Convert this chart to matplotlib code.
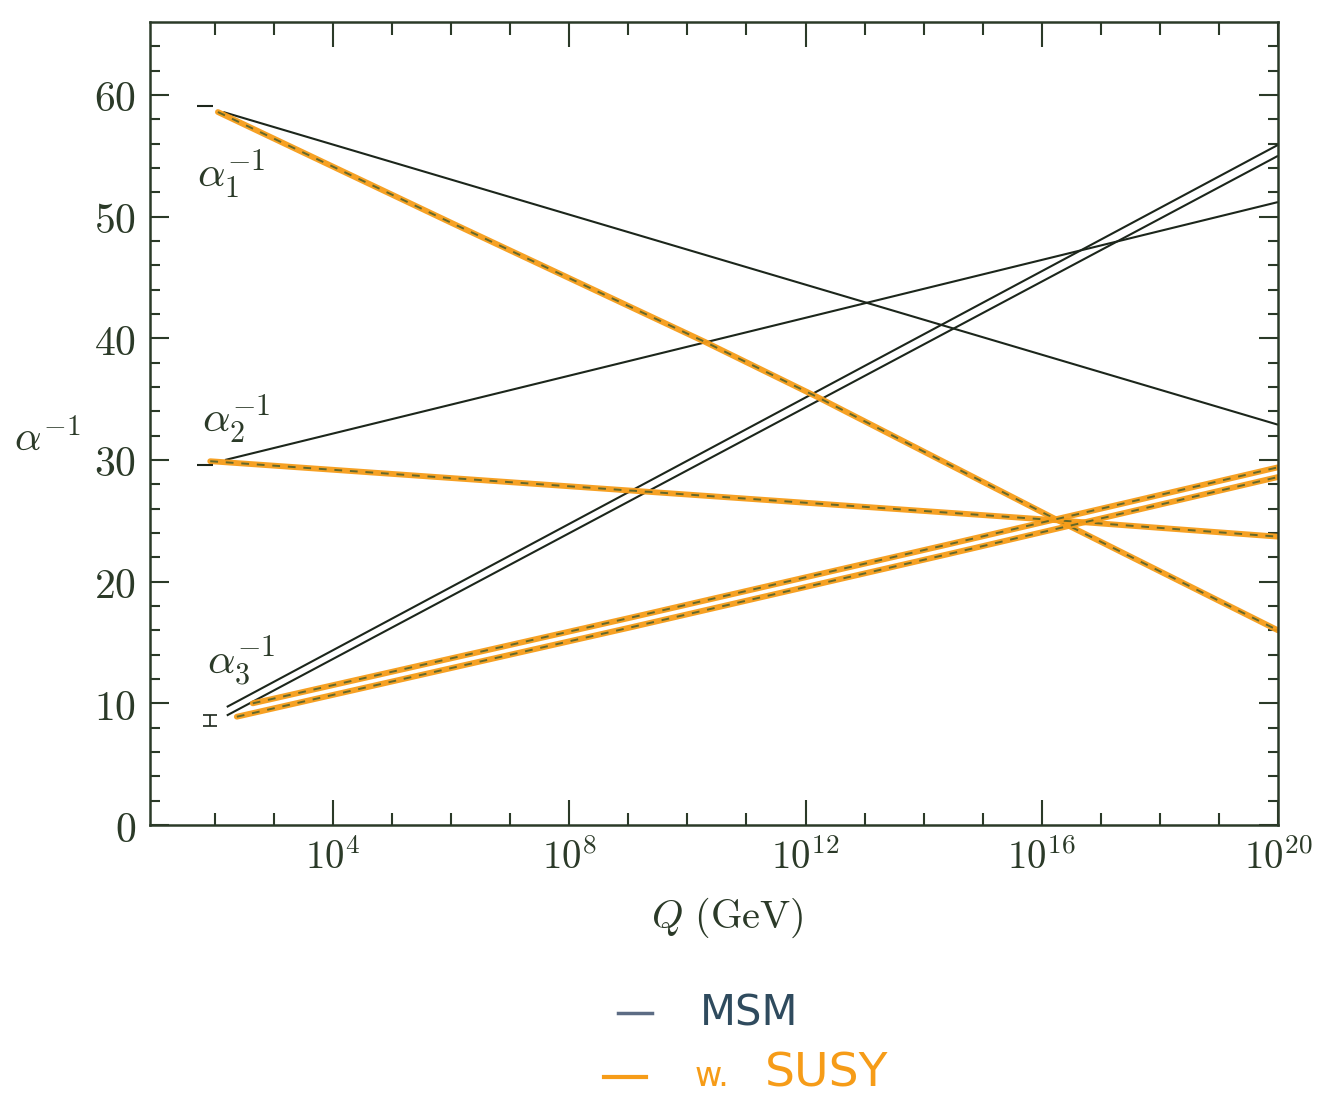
import numpy as np
import matplotlib
matplotlib.use("Agg")
import matplotlib.pyplot as plt
from matplotlib.ticker import FixedLocator, FixedFormatter, NullFormatter
from matplotlib.lines import Line2D

plt.rcParams["mathtext.fontset"] = "cm"
plt.rcParams["font.family"] = "serif"
plt.rcParams["font.serif"] = ["DejaVu Serif"]

# log10(Q/GeV) and alpha^-1 values
msm_a1_logq = [2.14, 20.0]
msm_a1 = [58.6, 32.9]
msm_a2_logq = [2.17, 20.0]
msm_a2 = [30.0, 51.2]
msm_a3_logq = [2.2, 20.0]
msm_a3_hi = [9.7, 55.9]
msm_a3_lo = [9.0, 55.0]

susy_a1_logq = [2.05, 6.0, 10.3, 12.19, 16.25, 20.0]
susy_a1 = [58.6, 49.5, 39.7, 35.2, 25.1, 16.0]
susy_a2_logq = [1.92, 9.0, 16.25, 20.0]
susy_a2 = [29.9, 27.5, 25.05, 23.7]
susy_a3_hi_logq = [2.64, 9.0, 14.45, 20.0]
susy_a3_hi = [10.0, 17.0, 23.1, 29.4]
susy_a3_lo_logq = [2.37, 9.0, 14.45, 20.0]
susy_a3_lo = [8.9, 16.2, 22.3, 28.6]

# measured values at M_Z
mz_logq = [1.83, 1.83]
mz_vals = [59.1, 29.6]
a3_logq = 1.92
a3_val = 8.6
a3_err = 0.45

xticks_major = [4, 8, 12, 16, 20]
xticks_minor = [k for k in range(2, 20) if k % 4]

ink = "#1c261b"
axcol = "#2b3a28"
orange = "#f69c18"
dash_col = "#3f5a2c"

W, H = 1323, 1110
fig = plt.figure(figsize=(W / 100, H / 100), dpi=100)
ax = fig.add_axes([150 / W, 1 - 825 / H, (1278 - 150) / W, (825 - 22) / H])

q = lambda l: 10.0 ** np.asarray(l)

for lq, v in [(msm_a1_logq, msm_a1), (msm_a2_logq, msm_a2),
              (msm_a3_logq, msm_a3_hi), (msm_a3_logq, msm_a3_lo)]:
    ax.plot(q(lq), v, color=ink, lw=1.5, solid_capstyle="butt")

for lq, v in [(susy_a1_logq, susy_a1), (susy_a2_logq, susy_a2),
              (susy_a3_hi_logq, susy_a3_hi), (susy_a3_lo_logq, susy_a3_lo)]:
    ax.plot(q(lq), v, color=orange, lw=4.2, alpha=0.95, solid_capstyle="round")
    ax.plot(q(lq), v, color=dash_col, lw=1.4, ls=(0, (4, 4)), alpha=0.8)

ax.plot(q(mz_logq), mz_vals, ls="none", marker="_", ms=11, mew=1.5, color=ink)
ax.errorbar([10 ** a3_logq], [a3_val], yerr=[a3_err], fmt="none",
            ecolor=ink, elinewidth=1.2, capsize=5, capthick=1.2)

ax.set_xscale("log")
ax.set_xlim(10 ** 0.9, 1e20)
ax.set_ylim(0, 66)

ax.xaxis.set_major_locator(FixedLocator([10.0 ** k for k in xticks_major]))
ax.xaxis.set_major_formatter(FixedFormatter([r"$10^{%d}$" % k for k in xticks_major]))
ax.xaxis.set_minor_locator(FixedLocator([10.0 ** k for k in xticks_minor]))
ax.xaxis.set_minor_formatter(NullFormatter())

ax.yaxis.set_major_locator(FixedLocator(list(range(0, 61, 10))))
ax.yaxis.set_major_formatter(FixedFormatter([r"$%d$" % k for k in range(0, 61, 10)]))
ax.yaxis.set_minor_locator(FixedLocator([k for k in range(2, 66, 2) if k % 10]))

for s in ax.spines.values():
    s.set_color(axcol)
    s.set_linewidth(1.8)

ax.tick_params(which="both", direction="in", top=True, right=True, color=axcol,
               labelcolor=axcol, width=1.5)
ax.tick_params(axis="x", which="major", length=18, labelsize=28, pad=10)
ax.tick_params(axis="x", which="minor", length=9)
ax.tick_params(axis="y", which="major", length=14, labelsize=30, pad=10)
ax.tick_params(axis="y", which="minor", length=7)

fig.text(727 / W, 1 - 918 / H, r"$Q\ (\mathrm{GeV})$", fontsize=29,
         color=axcol, ha="center", va="center")
fig.text(14 / W, 1 - 450 / H, r"$\alpha^{-1}$", fontsize=30,
         color=axcol, ha="left", va="baseline")

for x, y, lab in [(197, 187, r"$\alpha_1^{-1}$"), (202, 432, r"$\alpha_2^{-1}$"),
                  (207, 674, r"$\alpha_3^{-1}$")]:
    fig.text(x / W, 1 - y / H, lab, fontsize=31, color=axcol,
             ha="left", va="baseline")

# hand-drawn legend below the plot
fig.add_artist(Line2D([618 / W, 652 / W], [1 - 1013 / H, 1 - 1013 / H],
                      color="#5c6c84", lw=2.5, transform=fig.transFigure))
fig.text(700 / W, 1 - 1013 / H, "MSM", fontsize=30, color="#2f4b5e",
         family="DejaVu Sans", ha="left", va="center")
fig.add_artist(Line2D([604 / W, 646 / W], [1 - 1077 / H, 1 - 1077 / H],
                      color=orange, lw=3, transform=fig.transFigure))
fig.text(695 / W, 1 - 1077 / H, "w.", fontsize=24, color=orange,
         family="DejaVu Sans", ha="left", va="center")
fig.text(765 / W, 1 - 1074 / H, "SUSY", fontsize=34, color=orange,
         family="DejaVu Sans", ha="left", va="center")

fig.savefig("out.png", dpi=100, facecolor="white")
